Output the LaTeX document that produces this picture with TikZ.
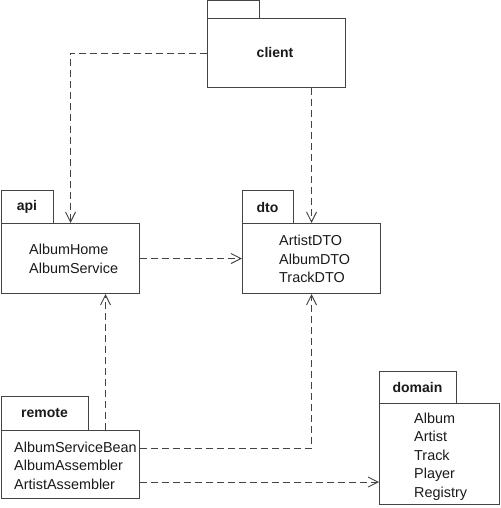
\documentclass[tikz,border=0pt]{standalone}
\usepackage{fontspec}
\setmainfont{Liberation Sans}
\usetikzlibrary{arrows.meta}
\definecolor{ln}{HTML}{444444}
\definecolor{tx}{HTML}{1A1A1A}
\tikzset{
  pkg/.style={draw=ln, line width=1pt, fill=white, inner sep=0pt, anchor=north west},
  lbl/.style={font=\fontsize{14}{16}\selectfont\bfseries, text=tx, inner sep=0pt},
  items/.style={font=\fontsize{14.4}{18.5}\selectfont, text=tx, align=left, inner sep=0pt, anchor=west},
  dep/.style={draw=ln, line width=0.9pt, dash pattern=on 7pt off 4pt, -{Straight Barb[length=10pt, width=10pt]}},
}
\begin{document}
\begin{tikzpicture}[x=1pt, y=-1pt]
\useasboundingbox (0,0) rectangle (500,508);
% client
\node[pkg, minimum width=52pt, minimum height=18pt] (clienttab) at (207,0) {};
\node[pkg, minimum width=138pt, minimum height=69pt] (client) at (207,18) {};
\node[lbl] (clientlbl) at (275,52.5) {client};
% api
\node[pkg, minimum width=52pt, minimum height=33pt] (apitab) at (1,190) {};
\node[pkg, minimum width=138pt, minimum height=70pt] (api) at (1,223) {};
\node[lbl] (apilbl) at (27,207) {api};
\node[items] (apiitems) at (29,259) {AlbumHome\\AlbumService};
% dto
\node[pkg, minimum width=51pt, minimum height=33pt] (dtotab) at (242,190) {};
\node[pkg, minimum width=138pt, minimum height=70pt] (dto) at (242,223) {};
\node[lbl] (dtolbl) at (267.5,207) {dto};
\node[items] (dtoitems) at (279,259) {ArtistDTO\\AlbumDTO\\TrackDTO};
% remote
\node[pkg, minimum width=87pt, minimum height=34pt] (remotetab) at (1,396) {};
\node[pkg, minimum width=138pt, minimum height=68pt] (remote) at (1,430) {};
\node[lbl] (remotelbl) at (44.5,413) {remote};
\node[items] (remoteitems) at (14,465.5) {AlbumServiceBean\\AlbumAssembler\\ArtistAssembler};
% domain
\node[pkg, minimum width=77pt, minimum height=32pt] (domaintab) at (379,371) {};
\node[pkg, minimum width=120pt, minimum height=101pt] (domain) at (379,403) {};
\node[lbl] (domainlbl) at (417.5,387) {domain};
\node[items] (domainitems) at (414,456.5) {Album\\Artist\\Track\\Player\\Registry};
% connectors
\draw[dep] (client.west) -| (api.north);
\draw[dep] (client.south -| dto.north) -- (dto.north);
\draw[dep] (api.east) -- (dto.west);
\coordinate (raup) at ([xshift=35pt]api.south);
\draw[dep] (raup |- remote.north) -- (raup);
\coordinate (rdstart) at ([yshift=16.5pt]remote.east);
\draw[dep] (rdstart) -| (dto.south);
\coordinate (rmstart) at ([yshift=-17.5pt]remote.east);
\draw[dep] (rmstart) -- (rmstart -| domain.west);
\end{tikzpicture}
\end{document}
